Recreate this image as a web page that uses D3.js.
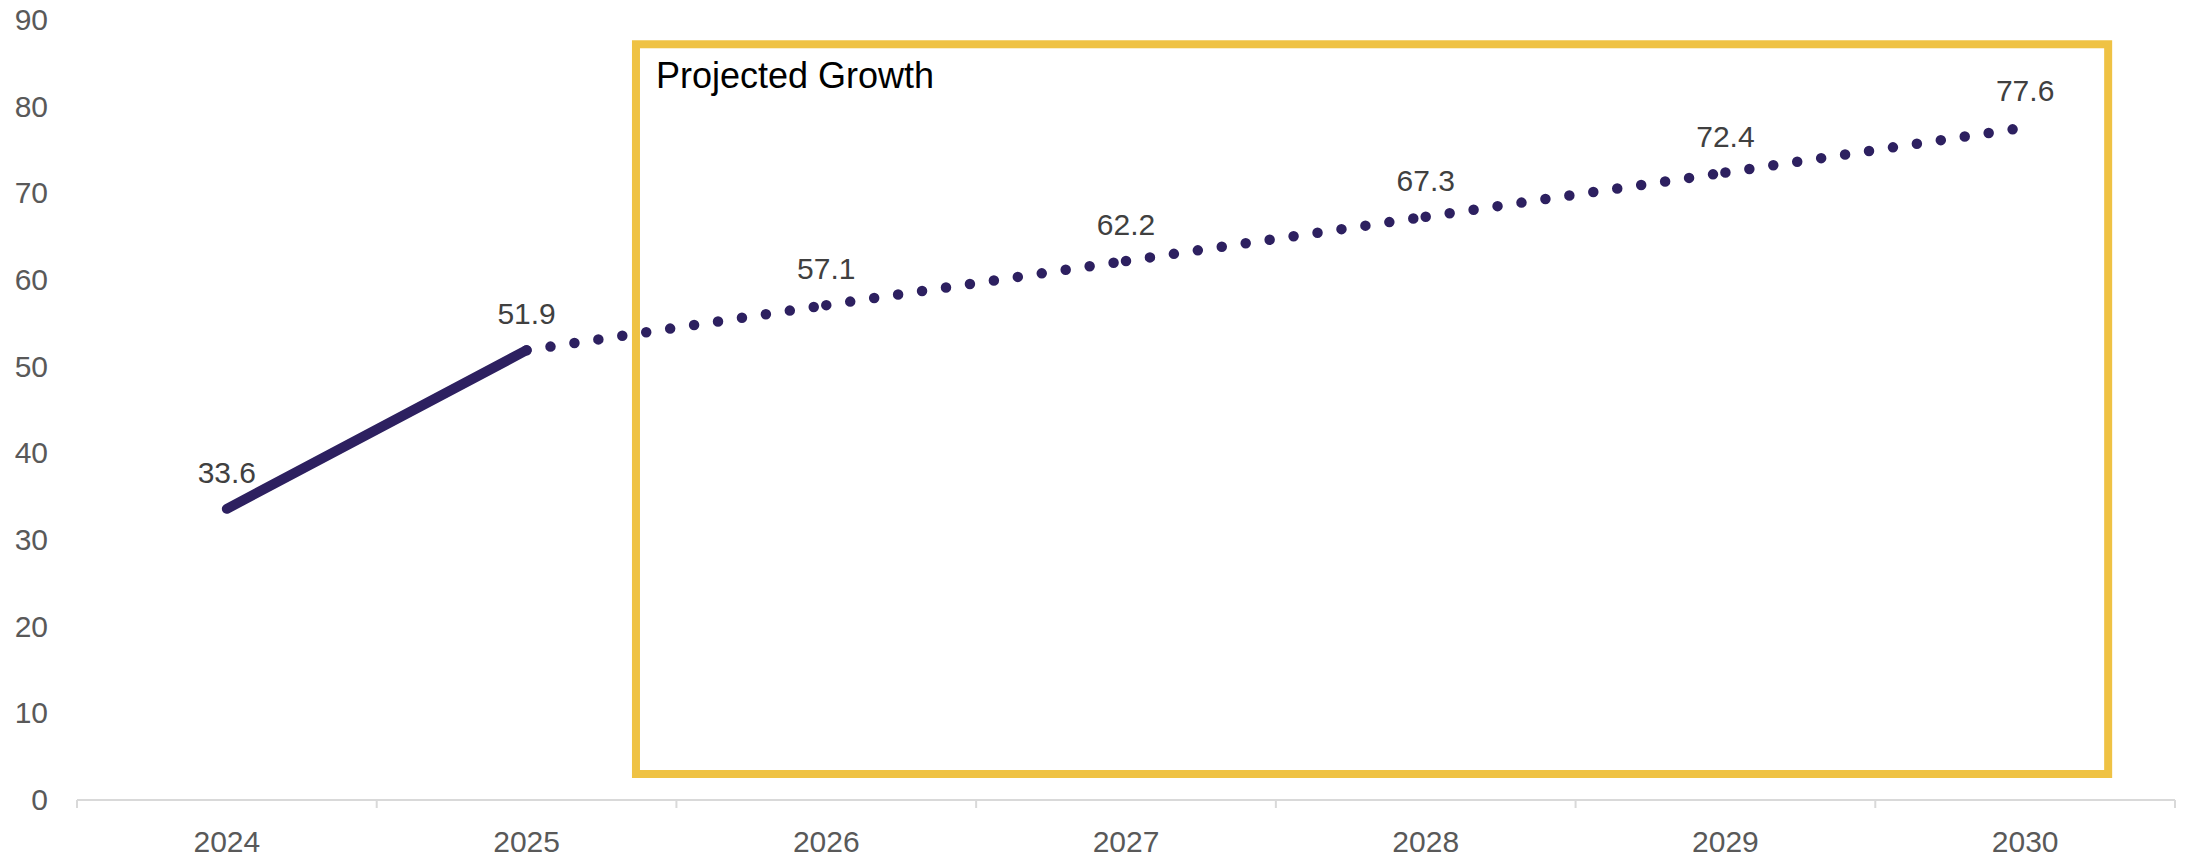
<!DOCTYPE html>
<meta charset="utf-8">
<html>
<style>
	body { margin: 0; background: #fff; }
	text { font-family: "Liberation Sans", Arial, sans-serif; }
	.axis text { fill: #595959; font-size: 30px; }
	.dlabel { fill: #404040; font-size: 30px; text-anchor: middle; }
</style>
<body>
	<script src="https://d3js.org/d3.v7.min.js"></script>
	<script type="text/javascript">
		var years = ["2024", "2025", "2026", "2027", "2028", "2029", "2030"];
		var values = [33.6, 51.9, 57.1, 62.2, 67.3, 72.4, 77.6];
		var actualCount = 2; // 2024-2025 actual, rest projected
		var yTicks = [0, 10, 20, 30, 40, 50, 60, 70, 80, 90];
		var boxLabel = "Projected Growth";

		var width = 2188, height = 858;
		var lineColor = "#2d2060";

		var svg = d3.select("body").append("svg")
			.attr("width", width)
			.attr("height", height);

		var x = d3.scaleBand().domain(years).range([77, 2175]).padding(0);
		var y = d3.scaleLinear().domain([0, 90]).range([800, 20]);
		var bw = x.bandwidth();
		function cx(i) { return x(years[i]) + bw / 2; }
		// fractional index -> pixel (for the annotation box)
		function fx(f) { return x(years[0]) + (f + 0.5) * bw; }

		// y axis labels
		svg.append("g")
			.attr("class", "axis")
			.attr("transform", "translate(77,0)")
			.call(d3.axisLeft(y).tickValues(yTicks).tickSize(0).tickPadding(29))
			.call(function (g) { g.select(".domain").remove(); });

		// x axis line + boundary ticks
		var bounds = years.map(function (d) { return x(d); }).concat([x(years[years.length - 1]) + bw]);
		svg.append("line")
			.attr("x1", bounds[0]).attr("x2", bounds[bounds.length - 1])
			.attr("y1", y(0)).attr("y2", y(0))
			.attr("stroke", "#d9d9d9").attr("stroke-width", 2);
		svg.selectAll(".btick").data(bounds).enter().append("line")
			.attr("class", "btick")
			.attr("x1", function (d) { return d; }).attr("x2", function (d) { return d; })
			.attr("y1", y(0)).attr("y2", y(0) + 8)
			.attr("stroke", "#d9d9d9").attr("stroke-width", 2);

		svg.append("g")
			.attr("class", "axis")
			.attr("transform", "translate(0," + y(0) + ")")
			.call(d3.axisBottom(x).tickSize(0).tickPadding(31))
			.call(function (g) { g.select(".domain").remove(); });

		// projected growth box
		var boxX0 = fx(1.365), boxX1 = fx(6.277);
		var boxY0 = y(87.2), boxY1 = y(3.0);
		svg.append("rect")
			.attr("x", boxX0).attr("y", boxY0)
			.attr("width", boxX1 - boxX0).attr("height", boxY1 - boxY0)
			.attr("fill", "none")
			.attr("stroke", "#efc244")
			.attr("stroke-width", 8);
		svg.append("text")
			.attr("x", boxX0 + 20)
			.attr("y", boxY0 + 44)
			.attr("font-size", "36px")
			.attr("fill", "#000")
			.text(boxLabel);

		// projected segments (dotted, pattern restarts each segment)
		var segs = [];
		for (var i = actualCount - 1; i < values.length - 1; i++) segs.push(i);
		svg.selectAll(".proj").data(segs).enter().append("line")
			.attr("class", "proj")
			.attr("x1", function (i) { return cx(i); })
			.attr("y1", function (i) { return y(values[i]); })
			.attr("x2", function (i) { return cx(i + 1); })
			.attr("y2", function (i) { return y(values[i + 1]); })
			.attr("stroke", lineColor)
			.attr("stroke-width", 10.5)
			.attr("stroke-linecap", "round")
			.attr("stroke-dasharray", "0 24.2");

		// actual segment (solid)
		var line = d3.line()
			.x(function (d, i) { return cx(i); })
			.y(function (d) { return y(d); });
		svg.append("path")
			.attr("d", line(values.slice(0, actualCount)))
			.attr("fill", "none")
			.attr("stroke", lineColor)
			.attr("stroke-width", 10)
			.attr("stroke-linecap", "round");

		// data labels
		svg.selectAll(".dlabel").data(values).enter().append("text")
			.attr("class", "dlabel")
			.attr("x", function (d, i) { return cx(i); })
			.attr("y", function (d) { return y(d) - 26; })
			.text(function (d) { return d.toFixed(1); });
	</script>
</body>
</html>
